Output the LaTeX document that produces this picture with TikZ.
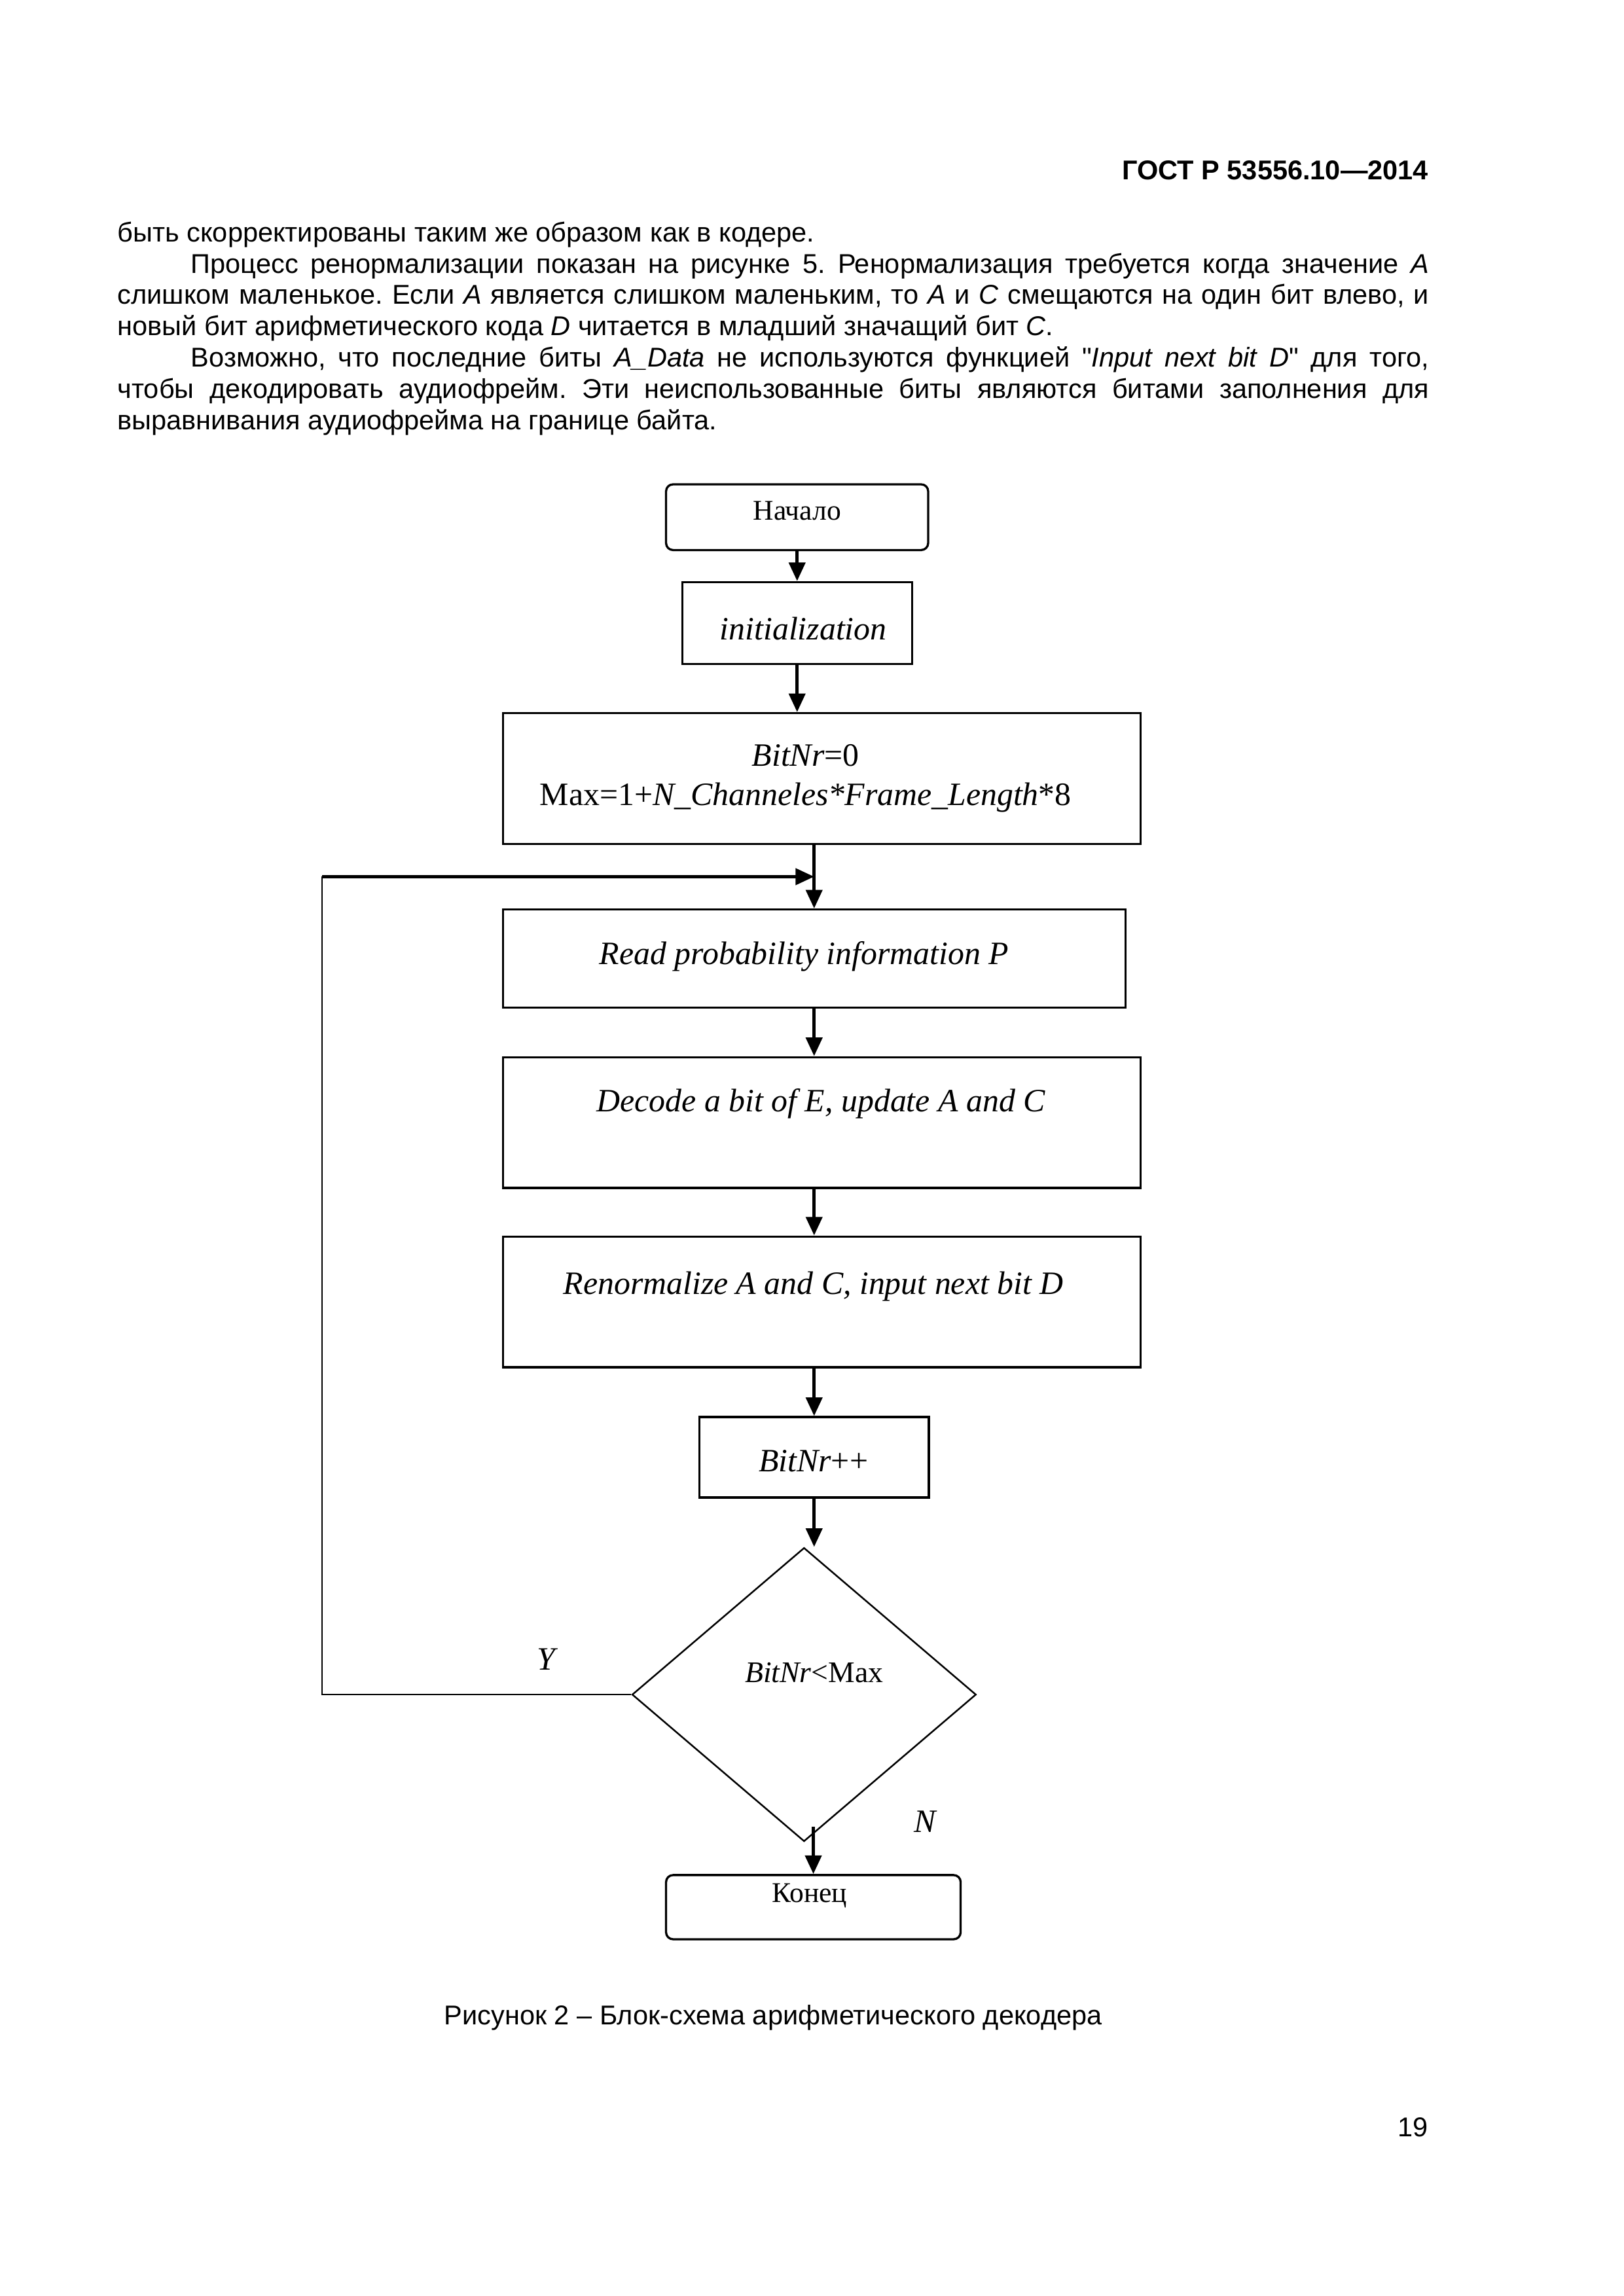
\documentclass[tikz,border=0pt]{standalone}
\usepackage{fontspec}
\setmainfont{Liberation Serif}
\newfontfamily\arialfont{Liberation Sans}
\usepackage{tikz}
\usetikzlibrary{arrows.meta,calc,shapes.geometric}
\frenchspacing

\begin{document}
\begin{tikzpicture}[x=1mm,y=-1mm,>={Triangle[length=2.4mm,width=2.1mm]},
  font=\fontsize{12}{14.5}\selectfont,
  box/.style={draw,line width=.8pt,inner sep=0pt},
  term/.style={box,rounded corners=.9mm},
  flow/.style={->,line width=1.2pt},
  thinline/.style={line width=.6pt},
  pagetext/.style={inner sep=0pt,font=\arialfont\fontsize{10}{11.55}\selectfont}]
\useasboundingbox (0,0) rectangle (210,297);

% page text
\node[pagetext,anchor=east,font=\arialfont\bfseries\fontsize{10}{11.55}\selectfont] (header) at (184.8,22.0) {ГОСТ Р 53556.10—2014};
\node[pagetext,anchor=north west,text width=169.6mm,align=justify] (body) at (15.15,28.6) {%
\hyphenpenalty=10000 \exhyphenpenalty=10000 \tolerance=9999
быть скорректированы таким же образом как в кодере.\par
\hspace*{9.5mm}Процесс ренормализации показан на рисунке 5. Ренормализация требуется когда значение \textit{A}\linebreak
слишком маленькое. Если \textit{A} является слишком маленьким, то \textit{A} и \textit{C} смещаются на один бит влево, и\linebreak
новый бит арифметического кода \textit{D} читается в младший значащий бит \textit{C}.\par
\hspace*{9.5mm}Возможно, что последние биты \textit{A\_Data} не используются функцией "\textit{Input next bit D}" для того,\linebreak
чтобы декодировать аудиофрейм. Эти неиспользованные биты являются битами заполнения для\linebreak
выравнивания аудиофрейма на границе байта.};
\node[pagetext] (caption) at (100.0,261.0) {Рисунок 2 – Блок-схема арифметического декодера};
\node[pagetext,anchor=east] (pagenum) at (184.8,275.2) {19};

% blocks
\node[term,minimum width=33.9mm,minimum height=8.5mm] (start) at (103.1,66.9) {};
\node[box,minimum width=29.7mm,minimum height=10.6mm] (init) at (103.1,80.6) {};
\node[box,minimum width=82.5mm,minimum height=16.9mm] (setmax) at (106.3,100.7) {};
\node[box,minimum width=80.5mm,minimum height=12.7mm] (read) at (105.3,124.0) {};
\node[box,minimum width=82.5mm,minimum height=16.9mm] (decode) at (106.3,145.2) {};
\node[box,minimum width=82.5mm,minimum height=16.9mm] (renorm) at (106.3,168.4) {};
\node[box,minimum width=29.7mm,minimum height=10.4mm] (incr) at (105.3,188.5) {};
\node[diamond,draw,line width=.6pt,inner sep=0pt,minimum width=44.5mm,minimum height=38mm] (check) at (104.0,219.2) {};
\node[term,minimum width=38.1mm,minimum height=8.3mm] (stop) at (105.2,246.7) {};

% block texts
\node[font=\fontsize{10.5}{12}\selectfont] (startlbl) at (103.1,66.1) {Начало};
\node (initlbl) at (103.9,81.3) {\textit{initialization}};
\node[align=center] (setmaxlbl) at (104.2,100.65) {\textit{BitNr}=0\\Max=1+\textit{N\_Channeles*Frame\_Length}*8};
\node (readlbl) at (104.0,123.7) {\textit{Read probability information P}};
\node (decodelbl) at (106.2,142.8) {\textit{Decode a bit of E, update A and C}};
\node (renormlbl) at (105.2,166.4) {\textit{Renormalize A and C, input next bit D}};
\node (incrlbl) at (105.2,189.0) {\textit{BitNr}++};
\node[font=\fontsize{11}{13}\selectfont] (checklbl) at (105.3,216.4) {\textit{BitNr}<Max};
\node (ylbl) at (70.85,214.6) {\textit{Y}};
\node (nlbl) at (119.7,235.6) {\textit{N}};
\node[font=\fontsize{10.5}{12}\selectfont] (stoplbl) at (104.7,245.2) {Конец};

% connectors
\draw[flow] (start) -- (init);
\draw[flow] (init.south) -- (init.south |- setmax.north);
\draw[flow] (read.north |- setmax.south) -- (read.north);
\draw[flow] (read.south) -- (read.south |- decode.north);
\draw[flow] (read.south |- decode.south) -- (read.south |- renorm.north);
\draw[flow] (read.south |- renorm.south) -- (incr.north);
\draw[flow] (incr.south) -- (incr.south |- check.north);
\draw[flow] ($(check.south -| stop.north)+(0,-2)$) -- (stop.north);
% return branch
\coordinate (back) at (41.65,113.4);
\draw[thinline] (check.west) -| (back);
\draw[flow] (back) -- (back -| read.north);
\end{tikzpicture}
\end{document}
